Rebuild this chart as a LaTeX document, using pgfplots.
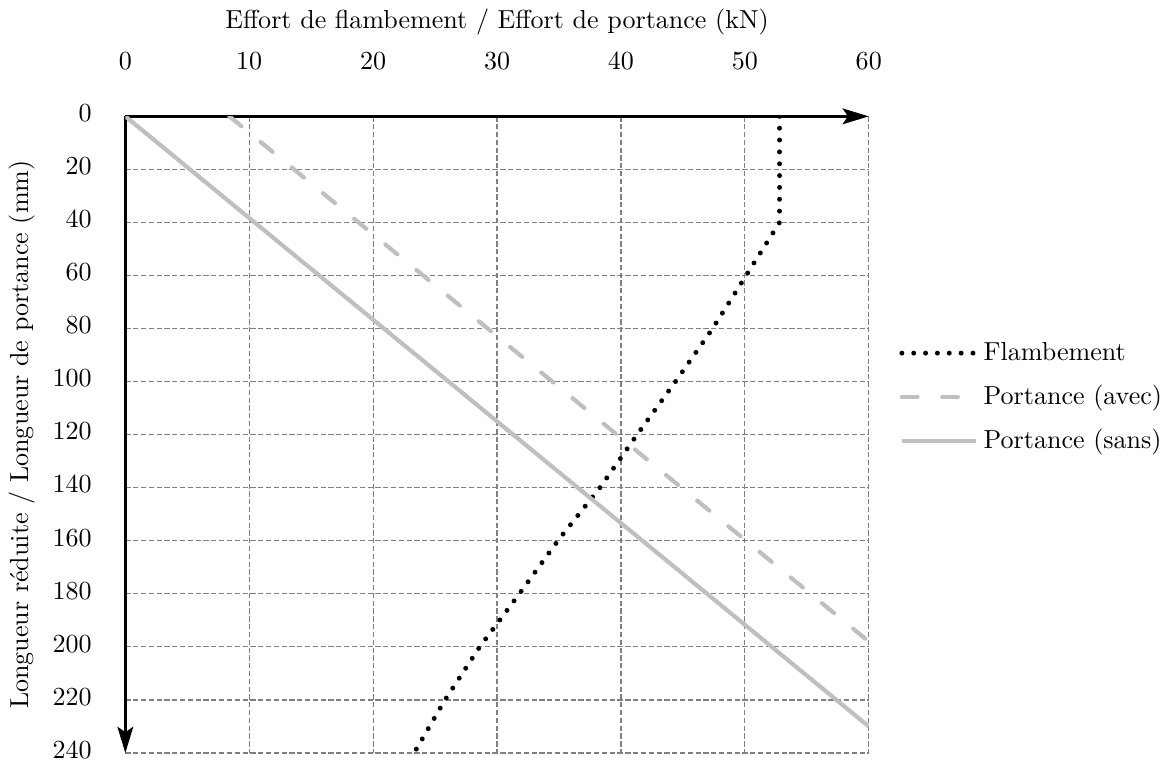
\documentclass[border=0pt]{standalone}
\usepackage{pgfplots}
\pgfplotsset{compat=1.18}
\usetikzlibrary{arrows.meta}

\begin{document}
\begin{tikzpicture}
\begin{axis}[
    scale only axis,
    width=285.5pt, height=244.5pt,
    xmin=0, xmax=60, ymin=0, ymax=240,
    y dir=reverse,
    axis x line*=top, axis y line*=left,
    axis line style={line width=1.3pt, -{Stealth[length=10pt, width=6pt, inset=2pt]}},
    xtick={0,10,...,60}, ytick={0,20,...,240},
    major tick length=0pt,
    xticklabel shift=14.5pt, yticklabel shift=9.4pt,
    yticklabel style={yshift=1.2pt},
    grid=major,
    grid style={gray, line width=0.45pt, dash pattern=on 2pt off 1pt},
    xlabel={Effort de flambement / Effort de portance (kN)},
    ylabel={Longueur réduite / Longueur de portance (mm)},
    legend style={draw=none, fill=none, at={(1.03,0.5586)}, anchor=west,
        legend cell align=left, row sep=4pt},
    legend image code/.code={\draw[#1] (0cm,0cm) -- (1cm,0cm);},
]
\addplot[black, line width=1.9pt, line cap=round, dash pattern=on 0pt off 4.55pt]
    coordinates {
        (52.8,0) (52.8,20) (52.8,40) (50.1,60) (47.4,80) (44.4,100)
        (41.3,120) (38.3,140) (34.9,160) (31.8,180) (28.6,200)
        (25.8,220) (23.3,240)
    };
\addlegendentry{Flambement}
\addplot[gray!50, line width=1.6pt, line cap=round, dash pattern=on 6pt off 9.5pt]
    coordinates {(8.4,0) (60,198)};
\addlegendentry{Portance (avec)}
\addplot[gray!50, line width=1.6pt]
    coordinates {(0,0) (60,230)};
\addlegendentry{Portance (sans)}
\end{axis}
\end{tikzpicture}
\end{document}
